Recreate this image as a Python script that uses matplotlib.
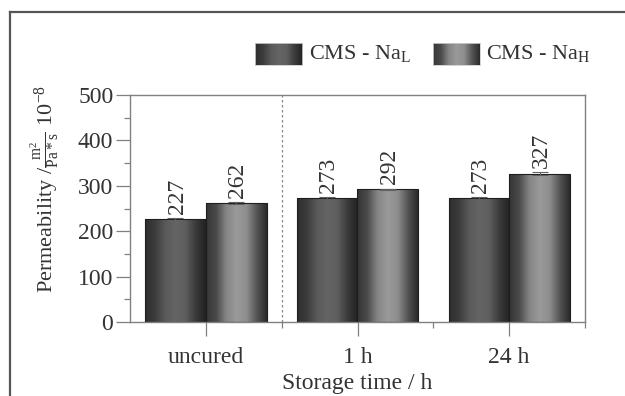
import numpy as np
import matplotlib
matplotlib.use("Agg")
import matplotlib.pyplot as plt
from matplotlib.lines import Line2D
from matplotlib.colors import LinearSegmentedColormap

plt.rcParams['font.family'] = ['Liberation Serif', 'DejaVu Serif']
plt.rcParams['mathtext.fontset'] = 'custom'
plt.rcParams['mathtext.rm'] = 'Liberation Serif'
plt.rcParams['mathtext.it'] = 'Liberation Serif:italic'

categories = ['uncured', '1 h', '24 h']
series_names = [r'CMS - Na$_{\mathrm{L}}$', r'CMS - Na$_{\mathrm{H}}$']
values_L = [227, 273, 273]
values_H = [262, 292, 327]
errors_L = [2, 2, 2]
errors_H = [2, 2, 3]
yticks = [0, 100, 200, 300, 400, 500]

text_c = '#333333'
axis_c = '#808080'
FS = 17

fig = plt.figure(figsize=(6.25, 3.96), dpi=100)
ax = fig.add_axes([130/625, 1-322/396, (585-130)/625, (322-95)/396])

# figure frame (top and left edges only visible)
fx, fy = 10/625, 1-12/396
fig.lines.append(Line2D([fx, 1.05], [fy, fy], transform=fig.transFigure, color='#555555', linewidth=1.6))
fig.lines.append(Line2D([fx, fx], [fy, -0.05], transform=fig.transFigure, color='#555555', linewidth=1.6))

cmapL = LinearSegmentedColormap.from_list('L', ['#2e2e2e', '#3c3c3c', '#5a5a5a', '#656565', '#5e5e5e', '#3a3a3a', '#222222'])
cmapH = LinearSegmentedColormap.from_list('H', ['#363636', '#4a4a4a', '#858585', '#9a9a9a', '#8e8e8e', '#555555', '#2a2a2a'])
grad = np.linspace(0, 1, 256).reshape(1, -1)

x = np.arange(len(categories))
w = 0.4
for vals, errs, off, cmap in [(values_L, errors_L, -w/2, cmapL),
                              (values_H, errors_H, w/2, cmapH)]:
    bars = ax.bar(x + off, vals, w, facecolor='none', edgecolor='#1e1e1e', linewidth=0.8, zorder=3)
    for b in bars:
        x0, y0 = b.get_x(), b.get_y()
        im = ax.imshow(grad, extent=[x0, x0 + b.get_width(), y0, y0 + b.get_height()],
                       aspect='auto', cmap=cmap, zorder=2, interpolation='bicubic')
        im.set_clip_path(b)
    ax.errorbar(x + off, vals, yerr=errs, fmt='none', ecolor='#606060', elinewidth=0.8,
                capsize=6, capthick=0.8, zorder=4)
    for xi, v, e in zip(x + off, vals, errs):
        ax.text(xi + 0.01, v + e + 9, str(v), rotation=90, ha='center', va='bottom',
                fontsize=FS, color=text_c, zorder=5)

ax.set_xlim(-0.5, 2.5)
ax.set_ylim(0, 500)
ax.set_aspect('auto')
ax.axvline(0.5, color='#888888', linestyle=(0, (2, 2)), linewidth=0.9, zorder=1)

ax.set_yticks(yticks)
ax.set_yticks(np.arange(50, 500, 100), minor=True)
ax.set_xticks(x)
ax.set_xticklabels(categories)
ax.set_xticks([0.5, 1.5, 2.5], minor=True)
ax.tick_params(axis='both', which='major', length=10, width=0.9, color=axis_c,
               labelsize=FS, labelcolor=text_c, pad=2)
ax.tick_params(axis='x', which='major', pad=8)
ax.tick_params(axis='both', which='minor', length=4.5, width=0.9, color=axis_c)
for s in ax.spines.values():
    s.set_color(axis_c)
    s.set_linewidth(1.0)

ax.set_xlabel('Storage time / h', fontsize=FS, color=text_c)
ax.xaxis.set_label_coords(0.5, -(383-322)/227, transform=ax.transAxes)
ax.xaxis.label.set_va('center')
ax.set_ylabel(r'Permeability /$\frac{\mathrm{m}^2}{\mathrm{Pa*s}}$ 10$^{-8}$',
              fontsize=16, color=text_c)
ax.yaxis.set_label_coords((45-130)/455, (322-189)/227, transform=ax.transAxes)
ax.yaxis.label.set_va('center')

# legend with gradient patches
for px, tx, cmap, lab in [(255, 309, cmapL, series_names[0]), (433, 486, cmapH, series_names[1])]:
    lax = fig.add_axes([px/625, 1-65/396, 47/625, 22/396])
    lax.imshow(grad, aspect='auto', cmap=cmap, extent=[0, 1, 0, 1], interpolation='bicubic')
    lax.set_xticks([]); lax.set_yticks([])
    for s in lax.spines.values():
        s.set_color('#cccccc'); s.set_linewidth(0.6)
    fig.text(tx/625, 1-54/396, lab, fontsize=16, color=text_c, va='center', ha='left')

fig.savefig('out.png', dpi=100)
